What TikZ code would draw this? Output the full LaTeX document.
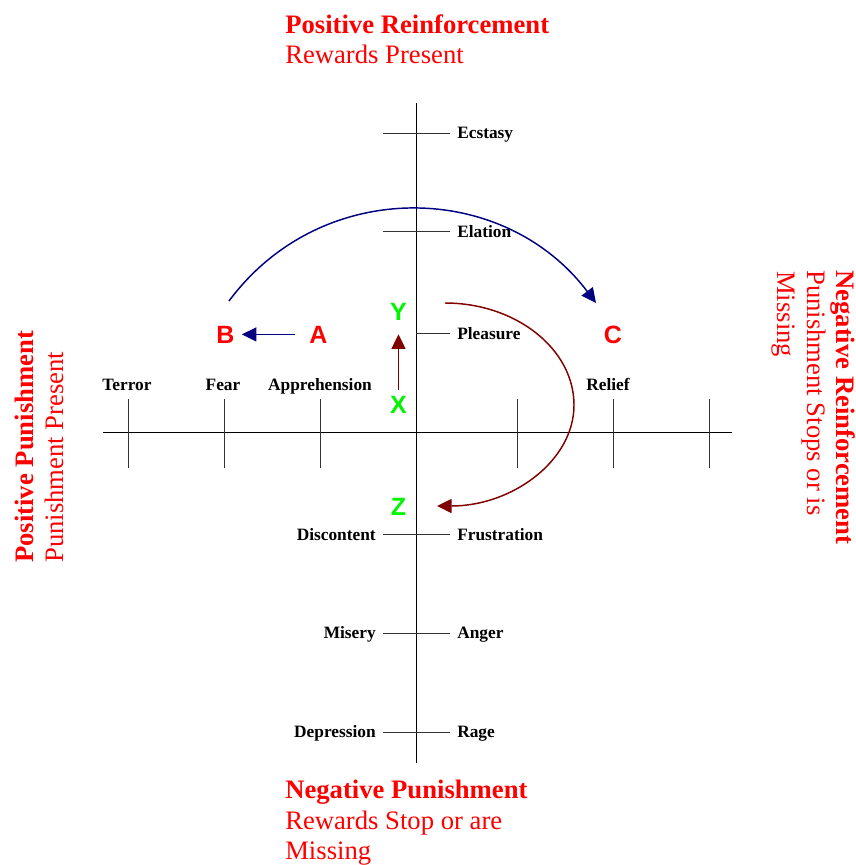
\documentclass[tikz,border=0pt]{standalone}
\usepackage{fontspec}
\setmainfont{Liberation Serif}
\newfontfamily\letterfont{Liberation Sans}
\usetikzlibrary{arrows.meta}
\definecolor{hred}{RGB}{255,0,0}
\definecolor{lgreen}{RGB}{0,245,0}
\definecolor{navyc}{RGB}{0,0,128}
\definecolor{maroonc}{RGB}{128,0,0}
\begin{document}
\begin{tikzpicture}[x=0.75pt,y=-0.75pt,
  lbl/.style={font=\fontsize{13}{15}\selectfont\bfseries, inner sep=0pt},
  head/.style={font=\fontsize{20}{22}\selectfont\bfseries, text=hred, inner sep=0pt},
  sub/.style={font=\fontsize{20}{22}\selectfont, text=hred, inner sep=0pt},
  letr/.style={font=\fontsize{18.75}{20}\selectfont\letterfont\bfseries, text=hred, inner sep=0pt, anchor=base},
  letg/.style={letr, text=lgreen},
  axisline/.style={line width=0.75pt, black},
  tickline/.style={line width=0.75pt, black!80},
  bluearrow/.style={draw=navyc, line width=1.1pt, -{Triangle[length=11pt,width=10.5pt]}},
  redarrow/.style={draw=maroonc, line width=1.1pt, -{Triangle[length=11pt,width=10.5pt]}},
]
\useasboundingbox (0,0) rectangle (856,865);

% axes
\coordinate (vtop) at (416,103);
\coordinate (vbot) at (416,763);
\coordinate (hleft) at (103,432);
\coordinate (hright) at (732,432);
\draw[axisline] (vtop) -- (vbot);
\draw[axisline] (hleft) -- (hright);

% ticks
\foreach \x in {128,224,320,517,613,709} \draw[tickline] (\x,399) -- (\x,468);
\foreach \y in {133,231,534,633,732} \draw[tickline] (383,\y) -- (450,\y);
\draw[tickline] (416,333) -- (450,333);

% vertical-axis labels
\node[lbl, anchor=base west] (ecstasy) at (457,138.5) {Ecstasy};
\node[lbl, anchor=base west] (elation) at (457,237) {Elation};
\node[lbl, anchor=base west] (pleasure) at (457,339) {Pleasure};
\node[lbl, anchor=base west] (frustration) at (457,540) {Frustration};
\node[lbl, anchor=base west] (anger) at (457,638.5) {Anger};
\node[lbl, anchor=base west] (rage) at (457,737.5) {Rage};
\node[lbl, anchor=base east] (discontent) at (376,540) {Discontent};
\node[lbl, anchor=base east] (misery) at (376,638.5) {Misery};
\node[lbl, anchor=base east] (depression) at (376,737.5) {Depression};

% horizontal-axis labels
\node[lbl, anchor=base] (terror) at (127,390.5) {Terror};
\node[lbl, anchor=base] (fear) at (223,390.5) {Fear};
\node[lbl, anchor=base] (apprehension) at (320,390.5) {Apprehension};
\node[lbl, anchor=base] (relief) at (608,390.5) {Relief};

% letters
\node[letr] (B) at (225.5,343) {B};
\node[letr] (A) at (318.5,343) {A};
\node[letr] (C) at (613,343) {C};
\node[letg] (Y) at (398.5,320) {Y};
\node[letg] (X) at (398.5,413) {X};
\node[letg] (Z) at (398.5,515) {Z};

% connectors
\draw[bluearrow, shorten <=10.9pt, shorten >=5.25pt] (A) -- (B);
\draw[redarrow, shorten <=4.5pt, shorten >=10.5pt] (X) -- (Y);
\coordinate (bs) at (229,301);
\coordinate (be) at (596,303);
\draw[bluearrow] (bs) .. controls (321,177) and (503,180) .. (be);
\coordinate (rs) at (445,303);
\coordinate (rm) at (574,405);
\coordinate (re) at (437,506);
\draw[redarrow] (rs) .. controls (516,303) and (574,349) .. (rm)
                     .. controls (574,461) and (512,506) .. (re);

% headings
\node[head, anchor=base west] (prh) at (285,33) {Positive Reinforcement};
\node[sub, anchor=base west] (prs) at (285,63) {Rewards Present};
\node[head, anchor=base west] (nph) at (285,798) {Negative Punishment};
\node[sub, anchor=base west] (nps1) at (285,829) {Rewards Stop or are};
\node[sub, anchor=base west] (nps2) at (285,859) {Missing};
\node[head, rotate=90, anchor=base west] (pph) at (33,563) {Positive Punishment};
\node[sub, rotate=90, anchor=base west] (pps) at (63,563) {Punishment Present};
\node[head, rotate=-90, anchor=base west] (nrh) at (836,270) {Negative Reinforcement};
\node[sub, rotate=-90, anchor=base west] (nrs1) at (807,270) {Punishment Stops or is};
\node[sub, rotate=-90, anchor=base west] (nrs2) at (777,271) {Missing};
\end{tikzpicture}
\end{document}
